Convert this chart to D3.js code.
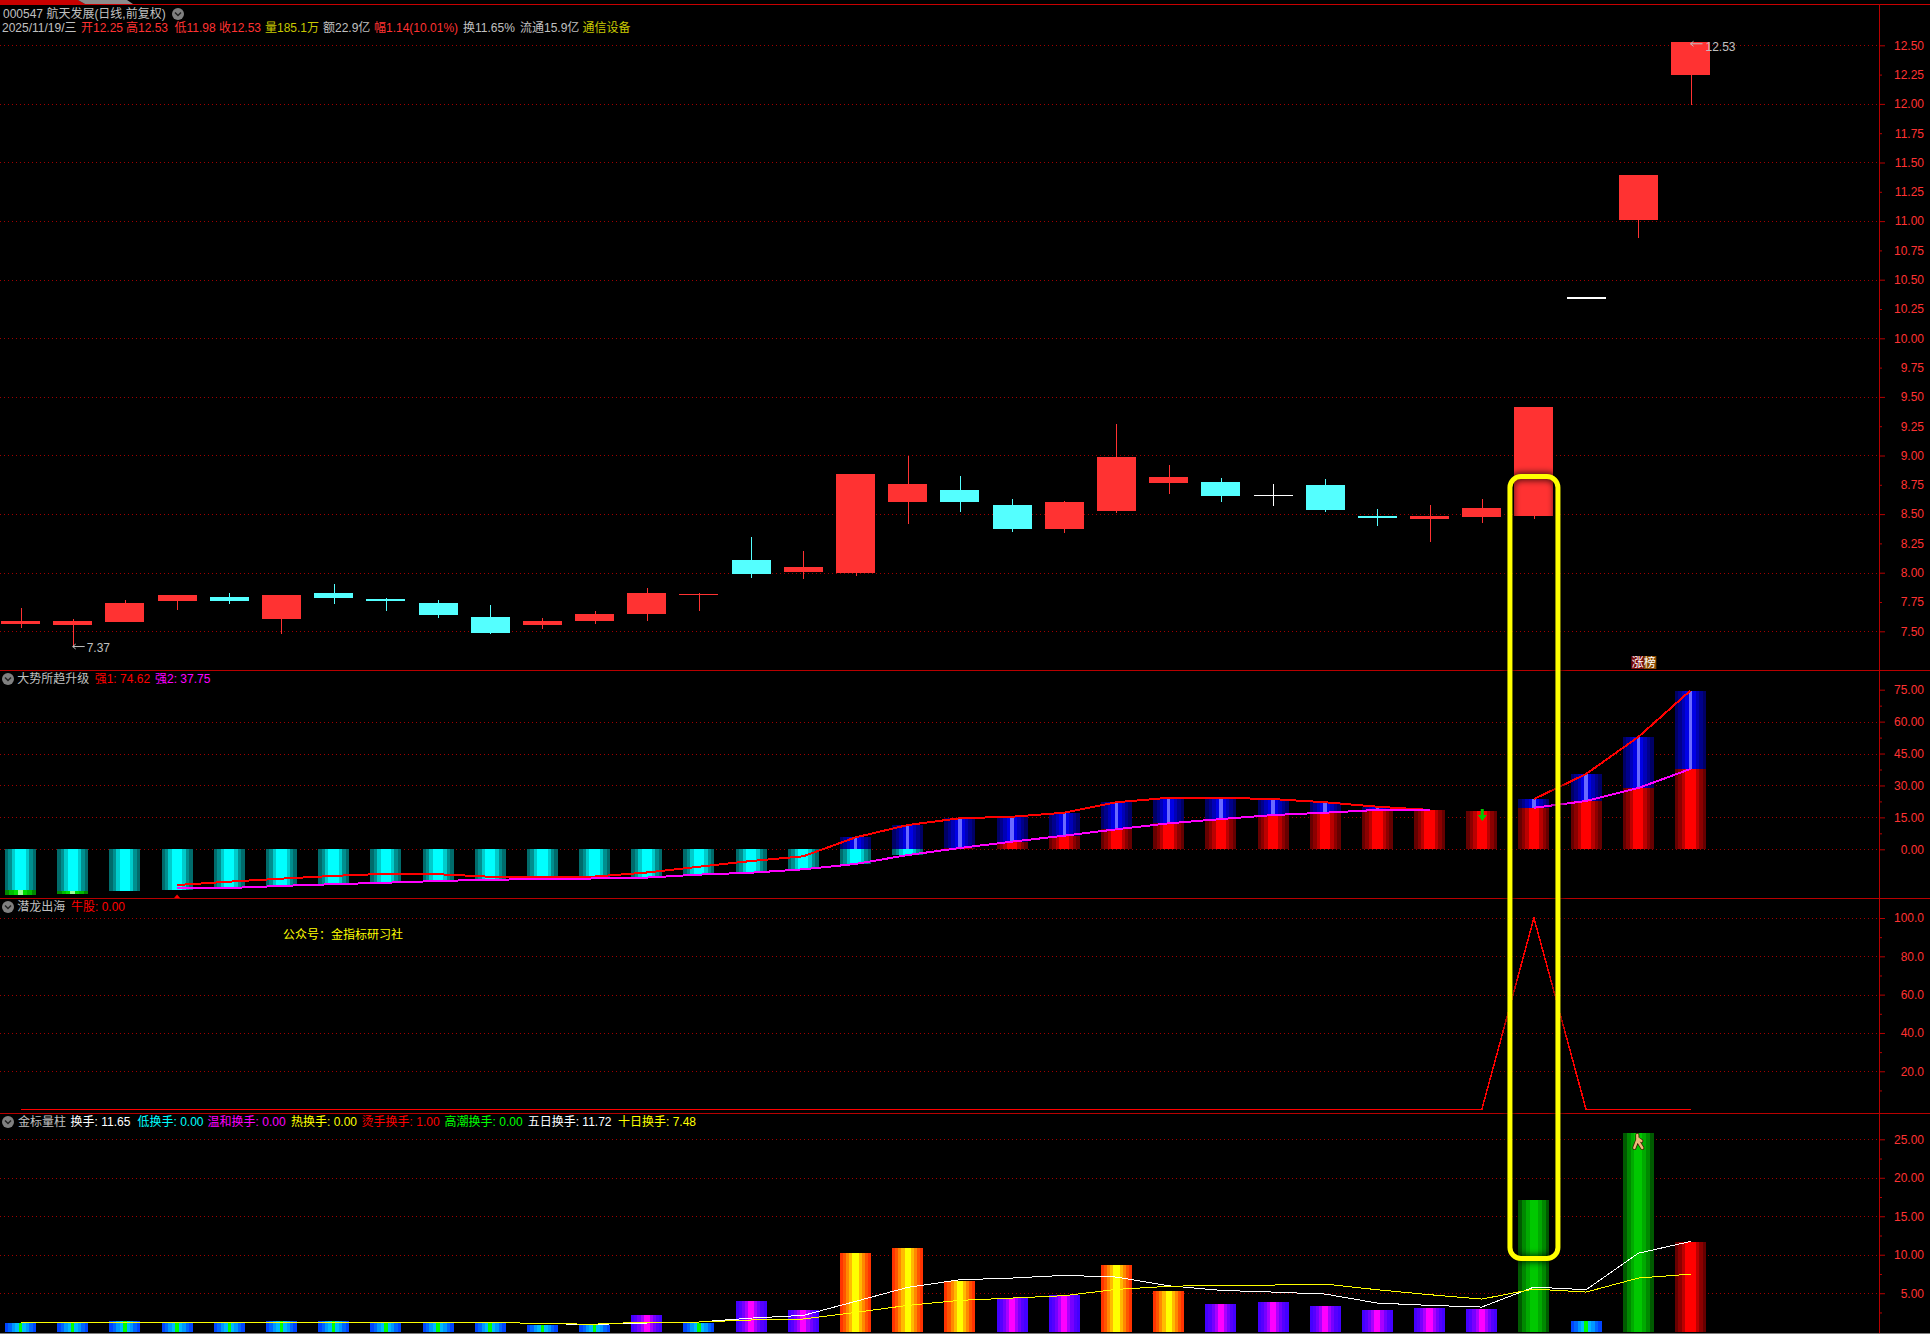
<!DOCTYPE html>
<html>
<head>
<meta charset="utf-8">
<script src="https://cdn.jsdelivr.net/npm/d3@7"></script>
<style>
  html, body { margin: 0; background: #000; }
  svg { display: block; }
  text { font-family: "Liberation Sans", "Noto Sans CJK SC", sans-serif; font-size: 12px; }
</style>
</head>
<body>
<div id="chart"></div>
<script>
// Candles, oldest first
const opens  = [7.563,7.554,7.58,7.759,7.793,7.605,7.827,7.776,7.742,7.622,7.554,7.588,7.648,7.81,8.109,8.003,7.994,8.6,8.702,8.574,8.37,8.523,8.762,8.771,8.665,8.745,8.48,8.455,8.472,8.48,10.35,11.01,12.25];
const closes = [7.588,7.588,7.742,7.81,7.759,7.81,7.784,7.759,7.639,7.486,7.588,7.648,7.827,7.819,7.989,8.045,8.839,8.754,8.6,8.37,8.6,8.984,8.813,8.651,8.665,8.532,8.472,8.48,8.549,9.41,10.35,11.393,12.53];
const highs  = [7.699,7.605,7.767,7.81,7.827,7.81,7.904,7.784,7.767,7.725,7.614,7.673,7.87,7.827,8.307,8.182,8.839,9.0,8.822,8.626,8.609,9.266,8.916,8.805,8.754,8.796,8.541,8.574,8.626,9.41,10.35,11.393,12.53];
const lows   = [7.528,7.37,7.58,7.682,7.733,7.477,7.733,7.673,7.614,7.477,7.52,7.563,7.588,7.673,7.955,7.943,7.969,8.412,8.515,8.344,8.336,8.506,8.668,8.6,8.566,8.515,8.398,8.259,8.421,8.455,10.35,10.86,11.99];

// 大势所趋升级
const strong1 = [null,null,null,-16.8,-15.2,-13.8,-12.5,-11.5,-11.7,-12.9,-13.0,-12.8,-10.9,-8.2,-5.5,-3.3,5.6,11.4,14.6,15.3,17.2,22.1,24.2,24.2,23.6,22.1,20.0,18.5,null,23.6,35.4,52.8,74.62];
const strong2 = [null,null,null,-18.3,-18.2,-17.2,-16.4,-15.7,-14.9,-14.3,-14.0,-13.7,-13.3,-11.9,-11.0,-9.4,-6.9,-2.7,0.6,3.6,6.4,9.4,12.2,14.2,16.1,17.2,18.5,18.5,null,19.5,22.7,28.8,37.75];
const barBase = [-19.2,-19.6,-19.6,-19.1,-18.2,-17.2,-16.4,-15.7,-14.9,-14.3,-14.0,-13.7,-13.3,-11.9,-11.0,-9.4,-6.9,-2.7,0.6,3.6,6.4,9.4,12.2,14.2,16.1,17.2,18.5,18.5,18.0,19.5,22.7,28.8,37.75];
const barTop  = [0,0,0,0,0,0,0,0,0,0,0,0,0,0,0,0,5.6,11.4,14.6,15.3,17.2,22.1,24.2,24.2,23.6,22.1,20.0,18.5,18.0,23.6,35.4,52.8,74.62];
const greenCaps = [-21.5,-20.9];

// 潜龙出海
const niuGu = [0,0,0,0,0,0,0,0,0,0,0,0,0,0,0,0,0,0,0,0,0,0,0,0,0,0,0,0,0,100,0,0,0];

// 金标量柱
const turnover = [1.17,1.08,1.43,1.08,1.17,1.43,1.43,1.08,1.08,1.17,0.91,0.91,2.2,1.17,4.03,2.86,10.26,10.9,6.62,4.37,4.8,8.7,5.32,3.64,3.9,3.38,2.86,3.12,2.99,17.14,1.43,25.84,11.65];
const turnoverKinds = ["cool","cool","cool","cool","cool","cool","cool","cool","cool","cool","cool","cool","violet","cool","violet","violet","fire","fire","fire","violet","violet","fire","fire","violet","violet","violet","violet","violet","violet","green","cool","green","red"];
const fiveDay = [1.2,1.2,1.2,1.2,1.2,1.2,1.2,1.17,1.17,1.25,1.04,0.95,1.13,1.26,1.77,2.12,3.94,5.76,6.75,6.97,7.32,7.1,5.97,5.37,5.15,4.89,3.72,3.42,3.2,5.8,5.45,10.2,11.72];
const tenDay  = [1.25,1.25,1.25,1.25,1.25,1.25,1.25,1.25,1.25,1.25,1.04,0.98,1.26,1.26,1.52,1.65,2.51,3.42,4.07,4.37,4.68,5.5,5.89,6.06,6.06,6.19,5.45,4.81,4.24,5.54,5.15,6.97,7.48];

// Tick labels
const priceTicks = [7.5,8,8.5,9,9.5,10,10.5,11,11.5,12,12.5];
const priceMinorTicks = [7.75,8.25,8.75,9.25,9.75,10.25,10.75,11.25,11.75,12.25];
const strengthTicks = [0, 15, 30, 45, 60, 75];
const niuTicks = [20, 40, 60, 80, 100];
const turnoverTicks = [5, 10, 15, 20, 25];

const RED = "#ff3232", CYAN = "#54ffff", LINE = "#b80000", GRID = "#a00000", GRAY = "#c0c0c0", DIM_YELLOW = "#c8c800";

const svg = d3.select("#chart").append("svg").attr("width", 1930).attr("height", 1334);
svg.append("rect").attr("width", 1930).attr("height", 1334).attr("fill", "#000");
const defs = svg.append("defs");

// Bars are shaded with hard vertical stripes
function stripes(id, colors) {
  const g = defs.append("linearGradient").attr("id", id).attr("x1", 0).attr("x2", 1).attr("y1", 0).attr("y2", 0);
  colors.forEach((c, i) => {
    g.append("stop").attr("offset", i / colors.length).attr("stop-color", c);
    g.append("stop").attr("offset", (i + 1) / colors.length).attr("stop-color", c);
  });
}
stripes("cyan", ["#006b6b","#008f8f","#00cccc","#00ffff","#00ffff","#00ffff","#00cccc","#008f8f","#006b6b"]);
stripes("red", ["#660000","#8c0000","#bb0000","#ff0000","#ff0000","#ff0000","#bb0000","#8c0000","#660000"]);
stripes("blue", ["#000066","#00008c","#0000b8","#0000e6","#6a6aff","#0000e6","#0000b8","#00008c","#000066"]);
stripes("cap", ["#008800","#00bb00","#00dd00","#99ff99","#00dd00","#00bb00","#008800"]);
stripes("cool", ["#0044ff","#0066ff","#0099ff","#00bbff","#00ff00","#00bbff","#0099ff","#0066ff","#0044ff"]);
stripes("violet", ["#4400ff","#5500ff","#7700ff","#aa00ff","#ff00ff","#ff00ff","#aa00ff","#7700ff","#5500ff","#4400ff"]);
stripes("fire", ["#ff3300","#ff5500","#ff8800","#ffbb00","#ffff00","#ffff00","#ffbb00","#ff8800","#ff5500","#ff3300"]);
stripes("green", ["#005a00","#008800","#00aa00","#00c800","#00c800","#00aa00","#008800","#005a00"]);
defs.append("filter").attr("id", "glow").attr("x", "-30%").attr("y", "-5%").attr("width", "160%").attr("height", "110%")
  .append("feGaussianBlur").attr("stdDeviation", 3);

// Scales
const AXIS_X = 1879;
const x = d3.scaleLinear().domain([0, 32]).range([20.5, 1690.5]);
const yPrice = d3.scaleLinear().domain([7.5, 12.5]).range([631.3, 45.3]);
const yStrength = d3.scaleLinear().domain([0, 75]).range([849.3, 689.7]);
const yNiu = d3.scaleLinear().domain([0, 100]).range([1109.6, 918]);
const yTurnover = d3.scaleLinear().domain([0, 25]).range([1331.7, 1139.3]);
const CANDLE_W = 39, BAR_W = 31;

// Dotted grid lines
function grid(scale, values) {
  svg.append("g").selectAll("line").data(values).join("line")
    .attr("x1", 0).attr("x2", AXIS_X)
    .attr("y1", d => Math.round(scale(d)) + 0.5).attr("y2", d => Math.round(scale(d)) + 0.5)
    .attr("stroke", GRID).attr("stroke-dasharray", "1 3");
}
grid(yPrice, priceTicks);
grid(yStrength, strengthTicks.filter(d => d < 75));
grid(yNiu, niuTicks);
grid(yTurnover, turnoverTicks);

// Right hand axes, labels right aligned against the window edge
function axis(scale, values, size, fmt) {
  svg.append("g").attr("transform", `translate(${AXIS_X},0)`)
    .call(d3.axisRight(scale).tickValues(values).tickSize(size).tickFormat(fmt))
    .call(a => a.select(".domain").remove())
    .call(a => a.selectAll("line").attr("stroke", LINE))
    .selectAll("text")
    .attr("x", 45).attr("text-anchor", "end").attr("fill", RED)
    .style("font-size", "12px");
}
axis(yPrice, priceTicks, 6, d3.format(".2f"));
axis(yPrice, priceMinorTicks, 3, d3.format(".2f"));
axis(yStrength, strengthTicks, 6, d3.format(".2f"));
axis(yStrength, [7.5, 22.5, 37.5, 52.5, 67.5], 3, "");
axis(yNiu, niuTicks, 6, d3.format(".1f"));
axis(yNiu, [10, 30, 50, 70, 90], 3, "");
axis(yTurnover, turnoverTicks, 6, d3.format(".2f"));
axis(yTurnover, [2.5, 7.5, 12.5, 17.5, 22.5], 3, "");

// Frame
function rule(x1, y, x2, color) {
  svg.append("line").attr("x1", x1).attr("x2", x2).attr("y1", y).attr("y2", y).attr("stroke", color);
}
rule(0, 4.5, 1930, "#c80000");
rule(0, 670.5, 1930, LINE);
rule(0, 898.5, 1930, LINE);
rule(0, 1113.5, 1930, LINE);
rule(0, 1333.5, 1930, "#808080");
svg.append("line").attr("x1", AXIS_X + 0.5).attr("x2", AXIS_X + 0.5).attr("y1", 4).attr("y2", 1333).attr("stroke", LINE);

// Tabs cut off by the top of the window
svg.append("path").attr("d", "M0,0H78L85,4H0Z").attr("fill", "#c80000");
svg.append("path").attr("d", "M78,0H127L133,4H85Z").attr("fill", "#8c8c8c");

// Candles
const candleColor = i => closes[i] === opens[i] ? "#fff" : closes[i] > opens[i] ? RED : CYAN;
const candle = svg.append("g").selectAll("g").data(d3.range(opens.length)).join("g");
candle.append("line")
  .attr("x1", i => Math.round(x(i)) + 0.5).attr("x2", i => Math.round(x(i)) + 0.5)
  .attr("y1", i => yPrice(highs[i])).attr("y2", i => yPrice(lows[i]))
  .attr("stroke", candleColor).attr("shape-rendering", "crispEdges");
candle.append("rect")
  .attr("x", i => x(i) - CANDLE_W / 2).attr("width", CANDLE_W)
  .attr("y", i => yPrice(Math.max(opens[i], closes[i])))
  .attr("height", i => Math.max(1.5, Math.abs(yPrice(opens[i]) - yPrice(closes[i]))))
  .attr("fill", candleColor).attr("shape-rendering", "crispEdges");

function bar(parent, i, v0, v1, scale, fill) {
  parent.append("rect")
    .attr("x", x(i) - BAR_W / 2).attr("width", BAR_W)
    .attr("y", Math.min(scale(v0), scale(v1))).attr("height", Math.abs(scale(v0) - scale(v1)))
    .attr("fill", `url(#${fill})`).attr("shape-rendering", "crispEdges");
}

// Strength pane bars
const strengthBars = svg.append("g");
barBase.forEach((base, i) => {
  if (base < 0) bar(strengthBars, i, 0, base, yStrength, "cyan");
  if (base > 0) bar(strengthBars, i, 0, base, yStrength, "red");
  if (barTop[i] > Math.max(base, 0)) bar(strengthBars, i, Math.max(base, 0), barTop[i], yStrength, "blue");
});
greenCaps.forEach((v, i) => bar(strengthBars, i, barBase[i], v, yStrength, "cap"));

function series(values, scale, color, width) {
  svg.append("path").datum(values)
    .attr("d", d3.line().defined(d => d !== null).x((d, i) => x(i)).y(d => scale(d)))
    .attr("fill", "none").attr("stroke", color).attr("stroke-width", width)
    .attr("shape-rendering", "crispEdges");
}
series(strong1, yStrength, "#ff0000", 2);
series(strong2, yStrength, "#ff00ff", 2);

// Green arrow and small red triangle on the strength pane
const arrowX = x(28), triX = x(3);
svg.append("path")
  .attr("d", `M${arrowX - 1},${yStrength(18.9)}h3v6h3l-4.5,6l-4.5,-6h3z`)
  .attr("fill", "#00c800");
svg.append("path").attr("d", `M${triX - 3},898L${triX},894.5L${triX + 3},898Z`).attr("fill", "#ff0000");

// 牛股 line
series(niuGu, yNiu, "#ff0000", 1.5);

// Turnover pane
const turnoverBars = svg.append("g");
turnover.forEach((v, i) => bar(turnoverBars, i, 0, v, yTurnover, turnoverKinds[i]));
series(fiveDay, yTurnover, "#ffffff", 1);
series(tenDay, yTurnover, "#ffff00", 1);

// Little running figure on the tallest bar
const runner = svg.append("g").attr("transform", `translate(${x(31)},1141)`)
  .attr("fill", "none").attr("stroke-linecap", "round");
[["#3a1c00", 4], ["#f0b878", 2.4]].forEach(([c, w]) => {
  runner.append("path").attr("d", "M-1,-6V-1M-1,-1L-4,7M-1,-1L4,7M-1,-3L3,0").attr("stroke", c).attr("stroke-width", w);
});

// Extreme price markers
function marker(i, price, dy, tx, textDy, label) {
  const ax = x(i), ay = yPrice(price) + dy;
  svg.append("path").attr("d", `M${ax + 12},${ay}H${ax}M${ax + 3},${ay - 2.5}L${ax},${ay}L${ax + 3},${ay + 2.5}`)
    .attr("fill", "none").attr("stroke", GRAY);
  svg.append("text").attr("x", ax + tx).attr("y", ay + textDy).attr("dy", "0.36em").attr("fill", GRAY).text(label);
}
marker(1, 7.37, 0, 14, 1, "7.37");
marker(32, 12.53, 2, 15, 3, "12.53");

// Header rows
function textRow(y, items) {
  items.forEach(([label, tx, color]) => {
    svg.append("text").attr("x", tx).attr("y", y).attr("dy", "0.36em").attr("fill", color).text(label);
  });
}
function foldIcon(cx, cy) {
  svg.append("circle").attr("cx", cx).attr("cy", cy).attr("r", 6).attr("fill", "#808080");
  svg.append("path").attr("d", `M${cx - 3},${cy - 1.5}L${cx},${cy + 1.5}L${cx + 3},${cy - 1.5}`)
    .attr("fill", "none").attr("stroke", "#222").attr("stroke-width", 1.5);
}
textRow(14, [["000547 航天发展(日线,前复权)", 3, GRAY]]);
foldIcon(178, 14);
textRow(28, [
  ["2025/11/19/三", 2, GRAY], ["开12.25", 81, RED], ["高12.53", 126, RED], ["低11.98", 174.5, RED],
  ["收12.53", 219, RED], ["量185.1万", 265, DIM_YELLOW], ["额22.9亿", 323, GRAY],
  ["幅1.14(10.01%)", 374, RED], ["换11.65%", 463, GRAY], ["流通15.9亿", 520, GRAY], ["通信设备", 582.6, DIM_YELLOW]
]);
foldIcon(8, 679);
textRow(679, [["大势所趋升级", 17.3, GRAY], ["强1: 74.62", 94.7, "#ff0000"], ["强2: 37.75", 155, "#ff00ff"]]);
foldIcon(8, 907);
textRow(907, [["潜龙出海", 17.3, GRAY], ["牛股: 0.00", 71, "#ff0000"]]);
textRow(935, [["公众号：金指标研习社", 283, "#ffff00"]]);
foldIcon(8, 1122);
textRow(1122, [
  ["金标量柱", 18, GRAY], ["换手: 11.65", 70.5, "#fff"], ["低换手: 0.00", 137.5, "#00ffff"],
  ["温和换手: 0.00", 207.6, "#ff00ff"], ["热换手: 0.00", 291, "#ffff00"], ["烫手换手: 1.00", 361.6, "#ff0000"],
  ["高潮换手: 0.00", 444.6, "#00ff00"], ["五日换手: 11.72", 527.7, "#fff"], ["十日换手: 7.48", 618, "#ffff00"]
]);

// 涨榜 badge
const badgeX = x(31) - 7;
svg.append("rect").attr("x", badgeX).attr("y", 656).attr("width", 12.5).attr("height", 13).attr("fill", "#7a0a0a");
svg.append("rect").attr("x", badgeX + 12.5).attr("y", 656).attr("width", 12.5).attr("height", 13).attr("fill", "#8a4a00");
textRow(662.5, [["涨榜", badgeX + 0.5, "#fff"]]);

// Yellow highlight frame around the marked bar
const frame = { x: x(29) - 24, y: 476.5, width: 48, height: 782, rx: 11 };
svg.append("rect").attr("x", frame.x).attr("y", frame.y).attr("width", frame.width).attr("height", frame.height).attr("rx", frame.rx)
  .attr("fill", "none").attr("stroke", "#000").attr("stroke-opacity", 0.7).attr("stroke-width", 8).attr("filter", "url(#glow)");
svg.append("rect").attr("x", frame.x).attr("y", frame.y).attr("width", frame.width).attr("height", frame.height).attr("rx", frame.rx)
  .attr("fill", "none").attr("stroke", "#ffff00").attr("stroke-width", 5);
</script>
</body>
</html>
